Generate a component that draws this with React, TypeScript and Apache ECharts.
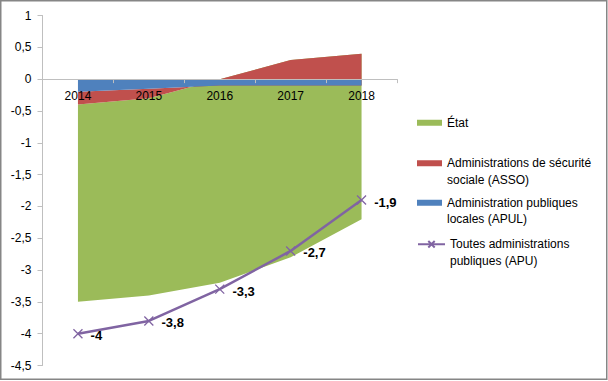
import React, { useEffect, useRef } from "react";
import * as echarts from "echarts";

const years = ["2014", "2015", "2016", "2017", "2018"];
const apul = [-0.2, -0.15, -0.1, -0.1, -0.1];
const asso = [-0.2, -0.15, 0.1, 0.4, 0.5];
const etat = [-3.1, -3.1, -3.2, -3.1, -2.6];
const apu = [-4, -3.8, -3.3, -2.7, -1.9];

const yTickMin = -4.5;
const yTickMax = 1;
const yTickStep = 0.5;

const NAME_ETAT = "État";
const NAME_ASSO = "Administrations de sécurité sociale (ASSO)";
const NAME_APUL = "Administration publiques locales (APUL)";
const NAME_APU = "Toutes administrations publiques (APU)";

const legendLines: Record<string, string> = {
  [NAME_ETAT]: "État",
  [NAME_ASSO]: "\nAdministrations de sécurité\nsociale (ASSO)",
  [NAME_APUL]: "\nAdministration publiques\nlocales (APUL)",
  [NAME_APU]: "\nToutes administrations\npubliques (APU)",
};

const FONT = "Liberation Sans, Arial, sans-serif";
const fmt = (v: number) => String(Math.round(v * 10) / 10).replace(".", ",");

const GRID_TOP = 15.5;
const GRID_BOTTOM = 15.5;
const CHART_H = 381;

export default function App() {
  const ref = useRef<HTMLDivElement>(null);
  useEffect(() => {
    if (!ref.current) return;
    const chart = echarts.init(ref.current, undefined, { renderer: "svg" });
    const LH = 16.5;
    const gridH = CHART_H - GRID_TOP - GRID_BOTTOM;
    // distance from grid bottom up to the value 0
    const zeroOffset = -gridH * ((0 - yTickMin) / (yTickMax - yTickMin));
    const mkLegend = (name: string, top: number, icon?: string) => ({
      show: true,
      orient: "vertical",
      left: 417,
      top,
      padding: 0,
      itemWidth: icon === "line" ? 27 : 25,
      itemHeight: icon === "line" ? 8 : 6,
      itemGap: 0,
      ...(icon && icon !== "line" ? { icon } : {}),
      data: [name],
      selectedMode: false,
      formatter: (n: string) => legendLines[n] || n,
      textStyle: {
        fontFamily: FONT,
        fontSize: 12,
        color: "#000",
        lineHeight: LH,
      },
    });
    chart.setOption({
      animation: false,
      textStyle: { fontFamily: FONT },
      grid: { left: 42.5, right: 211, top: GRID_TOP, bottom: GRID_BOTTOM, containLabel: false },
      legend: [
        mkLegend(NAME_ETAT, 114.5, "rect"),
        mkLegend(NAME_ASSO, 138.5, "rect"),
        mkLegend(NAME_APUL, 178, "rect"),
        mkLegend(NAME_APU, 219.5, "line"),
      ],
      xAxis: {
        type: "category",
        data: years,
        boundaryGap: true,
        position: "bottom",
        offset: zeroOffset,
        z: 6,
        axisLine: { show: true, onZero: false, lineStyle: { color: "#BFBFBF", width: 1 } },
        axisTick: { show: true, length: 4, inside: false, lineStyle: { color: "#BFBFBF" } },
        axisLabel: { interval: 0, margin: 11, fontSize: 12, color: "#000", fontFamily: FONT },
        splitLine: { show: false },
      },
      yAxis: {
        type: "value",
        min: yTickMin,
        max: yTickMax,
        interval: yTickStep,
        axisLine: { show: true, lineStyle: { color: "#BFBFBF", width: 1 } },
        axisTick: { show: true, length: 5, inside: false, lineStyle: { color: "#BFBFBF" } },
        axisLabel: { margin: 11, fontSize: 12, color: "#000", fontFamily: FONT, formatter: (v: number) => fmt(v) },
        splitLine: { show: false },
      },
      series: [
        {
          name: NAME_APUL,
          type: "line",
          data: apul,
          stack: "total",
          stackStrategy: "all",
          z: 4,
          showSymbol: false,
          symbol: "none",
          lineStyle: { width: 0 },
          itemStyle: { color: "#4F81BD" },
          areaStyle: { color: "#4F81BD", opacity: 1 },
        },
        {
          name: NAME_ASSO,
          type: "line",
          data: asso,
          stack: "total",
          stackStrategy: "all",
          z: 3,
          showSymbol: false,
          symbol: "none",
          lineStyle: { width: 0 },
          itemStyle: { color: "#C0504D" },
          areaStyle: { color: "#C0504D", opacity: 1 },
        },
        {
          name: NAME_ETAT,
          type: "line",
          data: etat,
          stack: "total",
          stackStrategy: "all",
          z: 2,
          showSymbol: false,
          symbol: "none",
          lineStyle: { width: 0 },
          itemStyle: { color: "#9BBB59" },
          areaStyle: { color: "#9BBB59", opacity: 1 },
        },
        {
          name: NAME_APU,
          type: "line",
          data: apu,
          z: 5,
          symbol: "path://M0 0L10 10M10 0L0 10",
          symbolSize: 9,
          lineStyle: { color: "#8064A2", width: 2.5 },
          itemStyle: { color: "#8064A2", borderColor: "#8064A2", borderWidth: 1.3 },
          label: {
            show: true,
            position: "right",
            distance: 7.5,
            offset: [0, 2],
            fontWeight: "bold",
            fontSize: 13,
            color: "#000",
            fontFamily: FONT,
            formatter: (p: any) => fmt(p.value),
          },
        },
      ],
      graphic: [
        {
          type: "rect",
          shape: { x: 0.75, y: 0.75, width: 606, height: 378.5 },
          style: { fill: "none", stroke: "#868686", lineWidth: 1.5 },
          silent: true,
          z: 100,
        },
      ],
    });
    return () => chart.dispose();
  }, []);
  return (
    <div
      ref={ref}
      style={{ position: "absolute", left: 0, top: 0, width: 608, height: 381, background: "#fff" }}
    />
  );
}
